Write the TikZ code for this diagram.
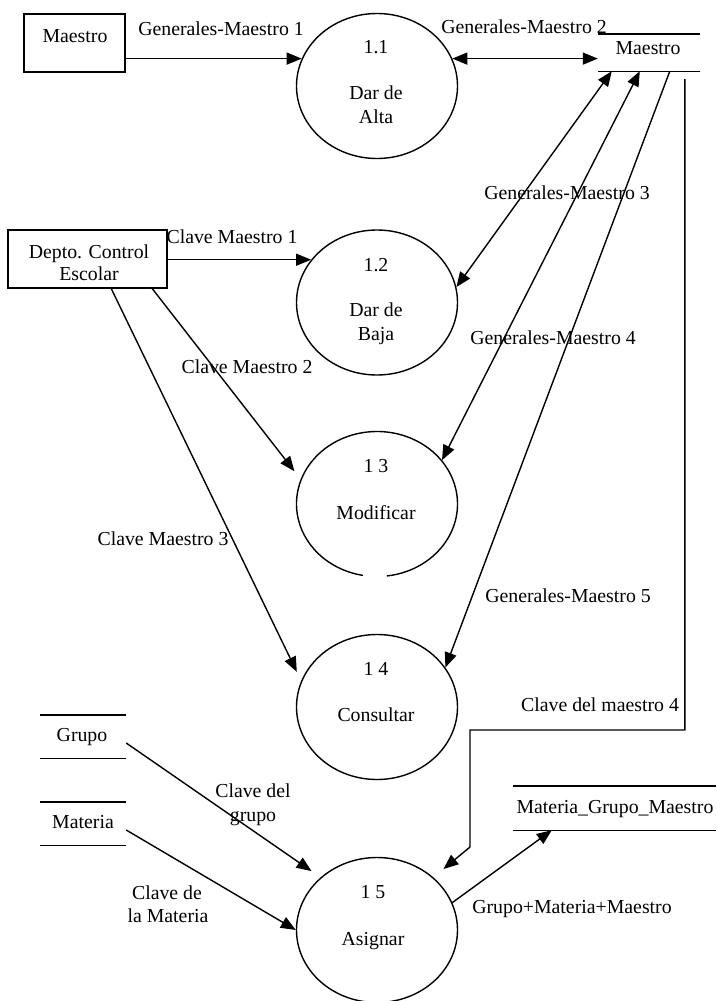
\documentclass[tikz,border=0pt]{standalone}
\usepackage{fontspec}
\setmainfont{Liberation Serif}
\usetikzlibrary{arrows.meta,shapes.geometric}
\begin{document}
\begin{tikzpicture}[x=1pt,y=-1pt,
  lbl/.style={anchor=base, inner sep=0pt, font=\fontsize{19.8pt}{24pt}\selectfont},
  proc/.style={ellipse, draw, line width=1.4pt, minimum width=161pt, minimum height=145pt, inner sep=0pt},
  ent/.style={draw, rectangle, line width=1.4pt, inner sep=0pt},
  store/.style={rectangle, inner sep=0pt},
  storeline/.style={line width=1.4pt},
  flow/.style={line width=1.4pt, -{Triangle[length=15pt,width=12pt]}},
  flowtwo/.style={line width=1.4pt, {Triangle[length=15pt,width=12pt]}-{Triangle[length=15pt,width=12pt]}}]
\useasboundingbox (0,0) rectangle (716,1001);
\fill[white] (0,0) rectangle (716,1001);

% external entities
\node[ent, minimum width=101pt, minimum height=58pt] (em) at (74.5,43) {};
\node[lbl] (emt) at (75,42) {Maestro};
\node[ent, minimum width=159pt, minimum height=58pt] (ed) at (87.5,259) {};
\node[lbl] (edt1) at (89,258.5) {Depto. Control};
\node[lbl] (edt2) at (89,280.5) {Escolar};

% processes
\node[proc] (p1) at (377,86) {};
\node[proc] (p2) at (377,302.5) {};
\node[proc, draw=none] (p3) at (377,504) {};
\draw[line width=1.4pt] ([xshift=9.81pt,yshift=-71.96pt]p3.center) arc[start angle=-83,end angle=260,x radius=80.5pt,y radius=72.5pt];
\node[proc] (p4) at (377,707) {};
\node[proc] (p5) at (377,930) {};

\node[lbl] (p1a) at (376,53.5) {1.1};
\node[lbl] (p1b) at (376,99.5) {Dar de};
\node[lbl] (p1c) at (376,123.5) {Alta};
\node[lbl] (p2a) at (376,271.5) {1.2};
\node[lbl] (p2b) at (376,316.5) {Dar de};
\node[lbl] (p2c) at (376,340.5) {Baja};
\node[lbl] (p3a) at (376,472.5) {1 3};
\node[lbl] (p3b) at (376,519.5) {Modificar};
\node[lbl] (p4a) at (376,675.5) {1 4};
\node[lbl] (p4b) at (376,721.5) {Consultar};
\node[lbl] (p5a) at (373,898.5) {1 5};
\node[lbl] (p5b) at (373,945.5) {Asignar};

% data stores
\node[store, minimum width=102pt, minimum height=37pt] (ms) at (649,52.5) {};
\draw[storeline] (ms.north west) -- (ms.north east) (ms.south west) -- (ms.south east);
\node[lbl] (mst) at (648,54.5) {Maestro};
\node[store, minimum width=86pt, minimum height=43pt] (sg) at (83,736.5) {};
\draw[storeline] (sg.north west) -- (sg.north east) (sg.south west) -- (sg.south east);
\node[lbl] (sgt) at (82,741.5) {Grupo};
\node[store, minimum width=86pt, minimum height=43pt] (sm) at (83,823.5) {};
\draw[storeline] (sm.north west) -- (sm.north east) (sm.south west) -- (sm.south east);
\node[lbl] (smt) at (83,828.5) {Materia};
\node[store, minimum width=203pt, minimum height=44pt] (smg) at (614.5,808) {};
\draw[storeline] (smg.north west) -- (smg.north east) (smg.south west) -- (smg.south east);
\node[lbl] (smgt) at (615,813.5) {Materia\_Grupo\_Maestro};

% flows
\draw[flow] (p1.160 -| em.east) -- (p1.160);
\draw[flowtwo] (p1.20) -- (p1.20 -| ms.west);
\draw[flowtwo] ([xshift=14pt]ms.south west) -- (p2.11);
\draw[flowtwo] ([xshift=42pt]ms.south west) -- (p3.34);
\draw[flow] ([xshift=72pt]ms.south west) -- (p4.30);
\coordinate (k1) at (470,730);
\coordinate (k2) at (470,847);
\draw[flow, shorten >=13pt] ([xshift=87pt,yshift=-8pt]ms.south west) |- (k1) -- (k2) -- (p5.43);
\draw[flow] (p2.147 -| ed.east) -- (p2.147);
\draw[flow, shorten >=10pt] ([xshift=145pt]ed.south west) -- (p3.162);
\draw[flow, shorten >=10pt] ([xshift=104pt]ed.south west) -- (p4.161);
\draw[flow, shorten >=11pt] ([yshift=-6.5pt]sg.east) -- (p5.137);
\draw[flow] ([yshift=-6.5pt]sm.east) -- (p5.180);
\draw[flow] (p5.20) -- ([xshift=39pt]smg.south west);

% flow labels
\node[lbl] (l1) at (221,35) {Generales-Maestro 1};
\node[lbl] (l2) at (524,33.5) {Generales-Maestro 2};
\node[lbl] (l3) at (567,199.5) {Generales-Maestro 3};
\node[lbl] (l4) at (553,344.5) {Generales-Maestro 4};
\node[lbl] (l5) at (568,602.5) {Generales-Maestro 5};
\node[lbl] (l6) at (232,243.5) {Clave Maestro 1};
\node[lbl] (l7) at (247,373.5) {Clave Maestro 2};
\node[lbl] (l8) at (163,545.5) {Clave Maestro 3};
\node[lbl] (l9) at (600,711.5) {Clave del maestro 4};
\node[lbl] (l10a) at (253,797.5) {Clave del};
\node[lbl] (l10b) at (253,821.5) {grupo};
\node[lbl] (l11a) at (167,899.5) {Clave de};
\node[lbl] (l11b) at (168,922.5) {la Materia};
\node[lbl] (l12) at (572,913.5) {Grupo+Materia+Maestro};
\end{tikzpicture}
\end{document}
